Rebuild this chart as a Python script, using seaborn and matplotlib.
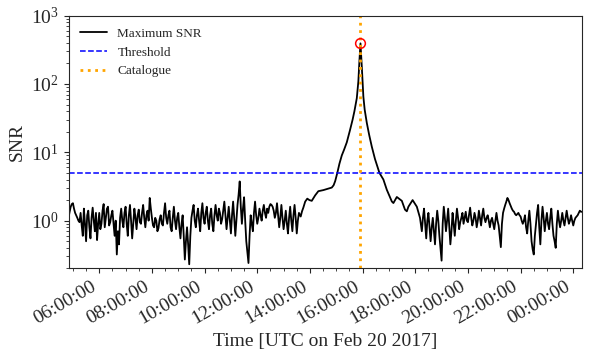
import numpy as np
import pandas as pd
import matplotlib
matplotlib.use("Agg")
import matplotlib.pyplot as plt
import matplotlib.dates as mdates
import seaborn as sns

# SNR, 2.5-min samples before the event (from 04:50)
snr_before = [1.1, 1.35, 1.6, 1.75, 1.8, 1.5, 1.3, 1.2, 1.1, 1.0,
              0.95, 1.3, 0.85, 0.6, 1.5, 0.9, 0.5, 1.2, 1.4, 0.8,
              0.55, 1.1, 1.55, 1.0, 0.7, 1.3, 0.52, 0.9, 1.3, 0.75,
              0.9, 1.4, 1.75, 0.8, 1.1, 1.5, 1.6, 0.85, 0.95, 1.2,
              1.4, 0.9, 0.6, 1.0, 0.32, 0.7, 0.45, 1.1, 1.5, 1.0,
              0.8, 1.3, 1.6, 0.9, 0.6, 1.2, 1.7, 1.0, 0.55, 0.9,
              1.5, 1.1, 0.75, 1.2, 1.45, 0.95, 0.9, 1.3, 1.7, 1.1,
              0.8, 1.2, 1.4, 1.0, 2.15, 1.5, 1.1, 0.85, 0.8, 1.1,
              1.0, 0.7, 0.78, 1.05, 1.2, 0.9, 0.85, 1.3, 1.8, 1.1,
              0.9, 1.2, 1.4, 0.8, 0.7, 1.1, 1.6, 1.0, 0.75, 1.1,
              1.3, 0.8, 0.55, 0.9, 1.2, 0.6, 0.27, 0.5, 0.8, 0.45,
              0.23, 0.6, 1.1, 1.4, 1.7, 1.0, 0.8, 1.2, 1.5, 1.0,
              0.7, 1.3, 1.8, 1.1, 0.9, 1.3, 1.6, 1.0, 0.75, 1.2,
              1.5, 0.9, 0.7, 1.2, 1.7, 1.2, 1.0, 1.5, 1.3, 0.9,
              1.05, 1.4, 1.9, 1.2, 0.75, 1.1, 1.6, 1.0, 0.65, 1.2,
              1.9, 1.1, 0.6, 1.0, 1.7, 2.4, 3.75, 1.6, 0.9, 1.5,
              2.2, 1.0, 0.5, 0.35, 0.24, 0.6, 1.2, 0.9, 0.7, 1.3,
              1.9, 1.2, 0.9, 1.1, 1.5, 1.2, 1.0, 1.4, 1.7, 1.3,
              1.1, 1.5, 1.3, 1.6, 1.75, 1.7, 1.6, 1.4, 1.1, 1.3,
              1.8, 1.2, 0.8, 1.1, 1.7, 1.1, 0.75, 1.0, 1.4, 0.9,
              0.65, 1.1, 1.6, 1.0, 0.7, 1.2, 1.7, 1.1, 0.65, 1.0,
              1.3]

# around the event: hours after midnight and SNR
event_hours = [13.65, 13.70, 13.75, 13.82, 13.90, 13.98, 14.07, 14.14, 14.20,
               14.32, 14.51, 14.70, 14.83, 14.90, 14.96, 15.04, 15.12, 15.21,
               15.30, 15.40, 15.52, 15.62, 15.69, 15.78, 15.84, 15.88, 15.92,
               15.97, 16.03, 16.08, 16.16, 16.25, 16.35, 16.47, 16.60, 16.64,
               16.79, 16.92, 17.11, 17.17, 17.30, 17.49, 17.61, 17.68, 17.74,
               17.87, 17.90, 18.06, 18.18]
event_snr = [1.15, 1.37, 1.55, 1.9, 2.1, 2.0, 1.95, 2.15, 2.35,
             2.7, 2.8, 2.95, 3.05, 3.3, 3.8, 5.0, 6.8, 9.0,
             11.0, 14.0, 21.0, 30.0, 40.0, 62.0, 110.0, 220.0, 393.0,
             179.0, 65.0, 42.0, 27.0, 18.0, 12.1, 8.0, 5.6, 5.0,
             4.0, 2.83, 1.91, 1.81, 2.22, 1.95, 1.45, 1.37, 1.6,
             1.91, 2.0, 1.6, 1.1]

# 2.5-min samples after the event (from 18:15)
snr_after = [0.7, 1.1, 1.5, 0.9, 0.55, 1.0, 1.3, 0.8, 0.5, 0.8,
             1.1, 0.7, 0.45, 0.9, 1.4, 1.0, 0.6, 0.4, 0.26, 0.9,
             1.6, 1.1, 0.7, 1.0, 1.5, 0.8, 0.45, 0.7, 1.3, 0.9,
             0.6, 1.0, 1.5, 1.1, 0.75, 0.95, 1.1, 1.3, 0.9, 1.1,
             1.35, 1.0, 0.95, 1.2, 1.55, 1.1, 0.85, 1.0, 1.3, 1.1,
             0.8, 1.0, 1.4, 1.1, 0.85, 1.2, 1.5, 1.1, 0.95, 1.1,
             1.2, 1.0, 0.8, 1.0, 1.1, 0.9, 0.75, 1.0, 1.3, 1.0,
             0.85, 0.6, 0.41, 0.9, 1.3, 1.5, 1.7, 1.9, 2.15, 2.0,
             1.8, 1.65, 1.5, 1.4, 1.35, 1.25, 1.2, 1.25, 1.3, 1.2,
             1.15, 1.0, 0.9, 1.0, 1.2, 0.8, 0.65, 1.0, 1.4, 0.9,
             0.5, 0.38, 0.32, 0.6, 0.9, 1.3, 1.7, 0.8, 0.45, 1.0,
             1.6, 1.1, 0.7, 1.0, 1.3, 0.9, 0.75, 1.1, 1.5, 0.9,
             0.6, 0.5, 0.4, 0.9, 1.4, 1.0, 0.8, 1.0, 1.3, 1.0,
             0.85, 1.1, 1.4, 1.1, 0.9, 1.0, 1.2, 1.0, 0.85, 1.0,
             1.1, 1.15, 1.2, 1.3, 1.4, 1.35, 1.35]

threshold = 5.0
catalogue_time = "2017-02-20 15:55"

day = pd.Timestamp("2017-02-20")
t_before = pd.date_range("2017-02-20 04:50", periods=len(snr_before), freq="150s")
t_event = day + pd.to_timedelta(event_hours, unit="h")
t_after = pd.date_range("2017-02-20 18:15", periods=len(snr_after), freq="150s")

df = pd.DataFrame({
    "time": list(t_before) + list(t_event) + list(t_after),
    "snr": snr_before + event_snr + snr_after,
})

sns.set_style("ticks")
plt.rcParams["font.family"] = ["Liberation Serif", "DejaVu Serif"]
plt.rcParams["mathtext.fontset"] = "stix"

fig = plt.figure(figsize=(5.98, 3.56), dpi=100)
ax = fig.add_axes([0.1146, 0.246, 0.8587, 0.710])

sns.lineplot(data=df, x="time", y="snr", color="black", lw=1.3,
             label="Maximum SNR", ax=ax)
ax.axhline(threshold, color="blue", ls="--", lw=1.1, label="Threshold")
ax.axvline(pd.Timestamp(catalogue_time), color="orange", ls=":", lw=2,
           label="Catalogue")
peak = df.loc[df["snr"].idxmax()]
ax.plot(peak["time"], peak["snr"], "o", mfc="none", mec="red", ms=7, mew=1.1)

ax.set_yscale("log")
ax.set_ylim(0.2, 1e3)
ax.set_xlim(df["time"].min(), df["time"].max())
ax.xaxis.set_major_locator(mdates.HourLocator(byhour=range(0, 24, 2)))
ax.xaxis.set_minor_locator(mdates.MinuteLocator(byminute=[0, 30]))
ax.xaxis.set_major_formatter(mdates.DateFormatter("%H:%M:%S"))
plt.setp(ax.get_xticklabels(), rotation=30, ha="right")
ax.tick_params(labelsize=14)

ax.set_xlabel("Time [UTC on Feb 20 2017]", fontsize=14)
ax.set_ylabel("SNR", fontsize=14)
ax.legend(loc="upper left", frameon=False, fontsize=9.5)

fig.savefig("out.png", dpi=100)
